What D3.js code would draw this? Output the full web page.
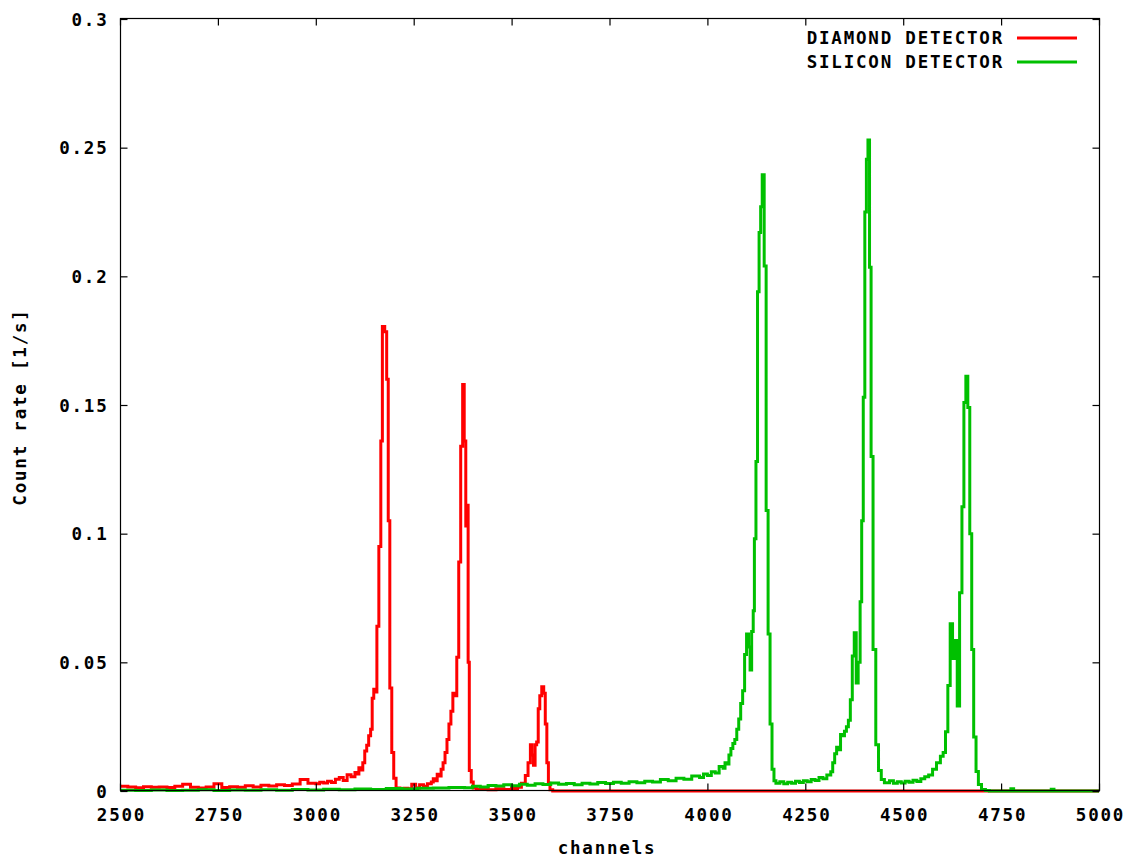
<!DOCTYPE html>
<html>
<head>
<meta charset="utf-8">
<script src="https://cdn.jsdelivr.net/npm/d3@7"></script>
<style>
  html, body { margin: 0; padding: 0; background: #fff; }
  svg text { font-family: "DejaVu Sans Mono", "Liberation Mono", monospace; font-weight: bold; font-size: 17.5px; letter-spacing: 1.8px; fill: #000; }
</style>
</head>
<body>
<svg id="chart" width="1136" height="860"></svg>
<script>
// Pulse-height spectra: count rate per channel for two detectors
const xTickValues = [2500, 2750, 3000, 3250, 3500, 3750, 4000, 4250, 4500, 4750, 5000];
const xTickLabels = ["2500", "2750", "3000", "3250", "3500", "3750", "4000", "4250", "4500", "4750", "5000"];
const yTickValues = [0, 0.05, 0.1, 0.15, 0.2, 0.25, 0.3];
const yTickLabels = ["0", "0.05", "0.1", "0.15", "0.2", "0.25", "0.3"];

const seriesNames = ["DIAMOND DETECTOR", "SILICON DETECTOR"];
const seriesColors = ["#ff0000", "#00c000"];

// Diamond detector: bin start channel and count rate [1/s]
const diamondChannel = [
  2500, 2520, 2540, 2560, 2580, 2600, 2620, 2640, 2660, 2680, 2700, 2720, 2740, 2760, 2780,
  2800, 2820, 2840, 2860, 2880, 2900, 2920, 2940, 2960, 2980, 3000, 3010, 3020, 3030, 3040,
  3050, 3060, 3070, 3080, 3090, 3100, 3105, 3110, 3115, 3120, 3125, 3130, 3135, 3140, 3144,
  3148, 3152, 3156, 3161, 3166, 3170, 3176, 3181, 3185, 3189, 3194, 3199, 3205, 3215, 3225,
  3235, 3245, 3255, 3265, 3275, 3285, 3295, 3300, 3305, 3310, 3315, 3320, 3325, 3330, 3335,
  3340, 3345, 3350, 3355, 3360, 3365, 3370, 3375, 3379, 3383, 3386, 3389, 3392, 3397, 3402,
  3410, 3420, 3440, 3460, 3480, 3500, 3515, 3525, 3535, 3542, 3548, 3552, 3556, 3560, 3564,
  3568, 3572, 3577, 3582, 3586, 3590, 3594, 3598, 3605, 5000
];
const diamondRate = [
  0.0018, 0.0016, 0.0013, 0.0017, 0.0015, 0.0016, 0.0014, 0.0018, 0.0026, 0.0015, 0.0012, 0.0016, 0.0028, 0.0014, 0.0017,
  0.0015, 0.0020, 0.0016, 0.0022, 0.0019, 0.0024, 0.0021, 0.0027, 0.0045, 0.0030, 0.0028, 0.0034, 0.0031, 0.0038, 0.0033,
  0.0046, 0.0052, 0.0041, 0.0063, 0.0055, 0.0072, 0.0066, 0.0090, 0.0082, 0.0110, 0.0155, 0.0178, 0.0215, 0.0240, 0.0360,
  0.0395, 0.0385, 0.0640, 0.0950, 0.1360, 0.1805, 0.1785, 0.1600, 0.1050, 0.0400, 0.0150, 0.0050, 0.0012, 0.0008, 0.0011,
  0.0009, 0.0026, 0.0012, 0.0024, 0.0018, 0.0028, 0.0035, 0.0048, 0.0040, 0.0065, 0.0058, 0.0085, 0.0110, 0.0150, 0.0200,
  0.0260, 0.0310, 0.0380, 0.0370, 0.0520, 0.0890, 0.1340, 0.1580, 0.1360, 0.1030, 0.1110, 0.0500, 0.0080, 0.0035, 0.0012,
  0.0006, 0.0010, 0.0005, 0.0009, 0.0006, 0.0010, 0.0015, 0.0030, 0.0060, 0.0110, 0.0180, 0.0140, 0.0100, 0.0180, 0.0190,
  0.0320, 0.0370, 0.0405, 0.0380, 0.0260, 0.0110, 0.0030, 0.0005, 0, 0
];

// Silicon detector: bin start channel and count rate [1/s]
const siliconChannel = [
  2500, 2540, 2580, 2620, 2660, 2700, 2740, 2780, 2820, 2860, 2900, 2940, 2980, 3020, 3060,
  3100, 3140, 3180, 3220, 3260, 3300, 3340, 3380, 3400, 3420, 3440, 3460, 3480, 3500, 3520,
  3540, 3560, 3580, 3600, 3620, 3640, 3660, 3680, 3700, 3720, 3740, 3760, 3780, 3800, 3820,
  3840, 3860, 3880, 3900, 3920, 3940, 3960, 3980, 3990, 4000, 4010, 4020, 4030, 4040, 4045,
  4050, 4055, 4060, 4065, 4070, 4075, 4080, 4085, 4090, 4095, 4100, 4105, 4109, 4113, 4117,
  4120, 4124, 4128, 4132, 4136, 4140, 4145, 4150, 4155, 4160, 4165, 4170, 4175, 4185, 4195,
  4205, 4215, 4225, 4235, 4245, 4255, 4265, 4275, 4285, 4295, 4305, 4315, 4320, 4325, 4330,
  4335, 4340, 4345, 4350, 4355, 4360, 4365, 4370, 4375, 4380, 4385, 4390, 4394, 4398, 4402,
  4406, 4410, 4414, 4418, 4423, 4430, 4437, 4444, 4452, 4465, 4475, 4485, 4495, 4505, 4515,
  4525, 4535, 4545, 4555, 4565, 4575, 4585, 4595, 4602, 4608, 4614, 4620, 4626, 4632, 4638,
  4644, 4650, 4655, 4660, 4665, 4670, 4675, 4680, 4686, 4692, 4700, 4710, 4720, 4775, 4782,
  4878, 4885, 5000
];
const siliconRate = [
  0.0003, 0.0002, 0.0004, 0.0002, 0.0003, 0.0005, 0.0002, 0.0004, 0.0003, 0.0005, 0.0003, 0.0006, 0.0004, 0.0007, 0.0005,
  0.0008, 0.0006, 0.0010, 0.0008, 0.0011, 0.0012, 0.0014, 0.0013, 0.0018, 0.0016, 0.0021, 0.0019, 0.0024, 0.0020, 0.0026,
  0.0022, 0.0028, 0.0025, 0.0031, 0.0026, 0.0029, 0.0024, 0.0030, 0.0027, 0.0033, 0.0029, 0.0034, 0.0030, 0.0036, 0.0032,
  0.0038, 0.0035, 0.0045, 0.0040, 0.0050, 0.0046, 0.0058, 0.0052, 0.0066, 0.0060, 0.0075, 0.0070, 0.0095, 0.0088, 0.0110,
  0.0105, 0.0140, 0.0165, 0.0185, 0.0200, 0.0240, 0.0280, 0.0340, 0.0390, 0.0530, 0.0610, 0.0560, 0.0470, 0.0620, 0.0700,
  0.0980, 0.1280, 0.1940, 0.2170, 0.2270, 0.2395, 0.2040, 0.1090, 0.0610, 0.0260, 0.0085, 0.0040, 0.0030, 0.0036, 0.0028,
  0.0034, 0.0030, 0.0038, 0.0033, 0.0040, 0.0036, 0.0045, 0.0041, 0.0052, 0.0048, 0.0062, 0.0075, 0.0110, 0.0145, 0.0170,
  0.0160, 0.0220, 0.0215, 0.0232, 0.0250, 0.0275, 0.0355, 0.0525, 0.0615, 0.0420, 0.0500, 0.0735, 0.1050, 0.1530, 0.2250,
  0.2455, 0.2530, 0.2035, 0.1300, 0.0550, 0.0180, 0.0080, 0.0045, 0.0032, 0.0040, 0.0030, 0.0036, 0.0031, 0.0038, 0.0034,
  0.0042, 0.0037, 0.0048, 0.0055, 0.0062, 0.0085, 0.0110, 0.0135, 0.0150, 0.0230, 0.0410, 0.0650, 0.0515, 0.0585, 0.0330,
  0.0770, 0.1105, 0.1510, 0.1612, 0.1490, 0.1000, 0.0550, 0.0210, 0.0076, 0.0025, 0.0006, 0.0002, 0, 0.0009, 0,
  0.0007, 0, 0
];

const svg = d3.select("#chart");
const margin = { left: 120, right: 1099, top: 19, bottom: 791 };

const x = d3.scaleLinear().domain([2500, 5000]).range([margin.left, margin.right]);
const y = d3.scaleLinear().domain([0, 0.3]).range([margin.bottom, margin.top]);

const series = [
  { name: seriesNames[0], color: seriesColors[0], ch: diamondChannel, rate: diamondRate },
  { name: seriesNames[1], color: seriesColors[1], ch: siliconChannel, rate: siliconRate }
];

const line = d3.line()
  .x(d => x(d[0]))
  .y(d => y(d[1]))
  .curve(d3.curveStepAfter);

const plot = svg.append("g");
plot.append("defs").append("clipPath").attr("id", "plotClip")
  .append("rect")
  .attr("x", margin.left).attr("y", margin.top - 2)
  .attr("width", margin.right - margin.left).attr("height", margin.bottom - margin.top + 4);

series.forEach(s => {
  const pts = s.ch.map((c, i) => [c, s.rate[i]]);
  plot.append("path")
    .datum(pts)
    .attr("clip-path", "url(#plotClip)")
    .attr("fill", "none")
    .attr("stroke", s.color)
    .attr("stroke-width", 3)
    .attr("stroke-linejoin", "miter")
    .attr("d", line);
});

// Frame
svg.append("rect")
  .attr("x", margin.left + 0.5).attr("y", margin.top - 0.5)
  .attr("width", margin.right - margin.left).attr("height", margin.bottom - margin.top)
  .attr("fill", "none").attr("stroke", "#000").attr("stroke-width", 1.2);

// Axes with inward ticks (mirrored on top and right)
const xAxis = svg.append("g").attr("transform", `translate(0,${margin.bottom - 0.5})`)
  .call(d3.axisBottom(x).tickValues(xTickValues).tickFormat((d, i) => xTickLabels[i]).tickSize(-7).tickPadding(18));
xAxis.select(".domain").remove();
xAxis.selectAll("text").attr("dx", "1px").attr("font-family", null).attr("font-size", null);

const yAxis = svg.append("g").attr("transform", `translate(${margin.left + 0.5},0)`)
  .call(d3.axisLeft(y).tickValues(yTickValues).tickFormat((d, i) => yTickLabels[i]).tickSize(-7).tickPadding(12));
yAxis.select(".domain").remove();
yAxis.selectAll("text").attr("dy", "0.36em").attr("font-family", null).attr("font-size", null);

const xTop = svg.append("g").attr("transform", `translate(0,${margin.top - 0.5})`)
  .call(d3.axisTop(x).tickValues(xTickValues).tickFormat("").tickSize(-7));
xTop.select(".domain").remove();

const yRight = svg.append("g").attr("transform", `translate(${margin.right + 0.5},0)`)
  .call(d3.axisRight(y).tickValues(yTickValues).tickFormat("").tickSize(-7));
yRight.select(".domain").remove();

svg.selectAll(".tick line").attr("stroke", "#000").attr("stroke-width", 1.2);

// Axis titles
svg.append("text")
  .attr("x", 607).attr("y", 854)
  .attr("text-anchor", "middle")
  .text("channels");

svg.append("text")
  .attr("transform", "translate(26,407) rotate(-90)")
  .attr("text-anchor", "middle")
  .text("Count rate [1/s]");

// Legend
const legend = svg.append("g");
series.forEach((s, i) => {
  const cy = 38 + i * 24;
  legend.append("text")
    .attr("x", 1004).attr("y", cy)
    .attr("dy", "0.36em")
    .attr("text-anchor", "end")
    .text(s.name);
  legend.append("line")
    .attr("x1", 1017).attr("x2", 1077)
    .attr("y1", cy).attr("y2", cy)
    .attr("stroke", s.color)
    .attr("stroke-width", 3);
});
</script>
</body>
</html>
